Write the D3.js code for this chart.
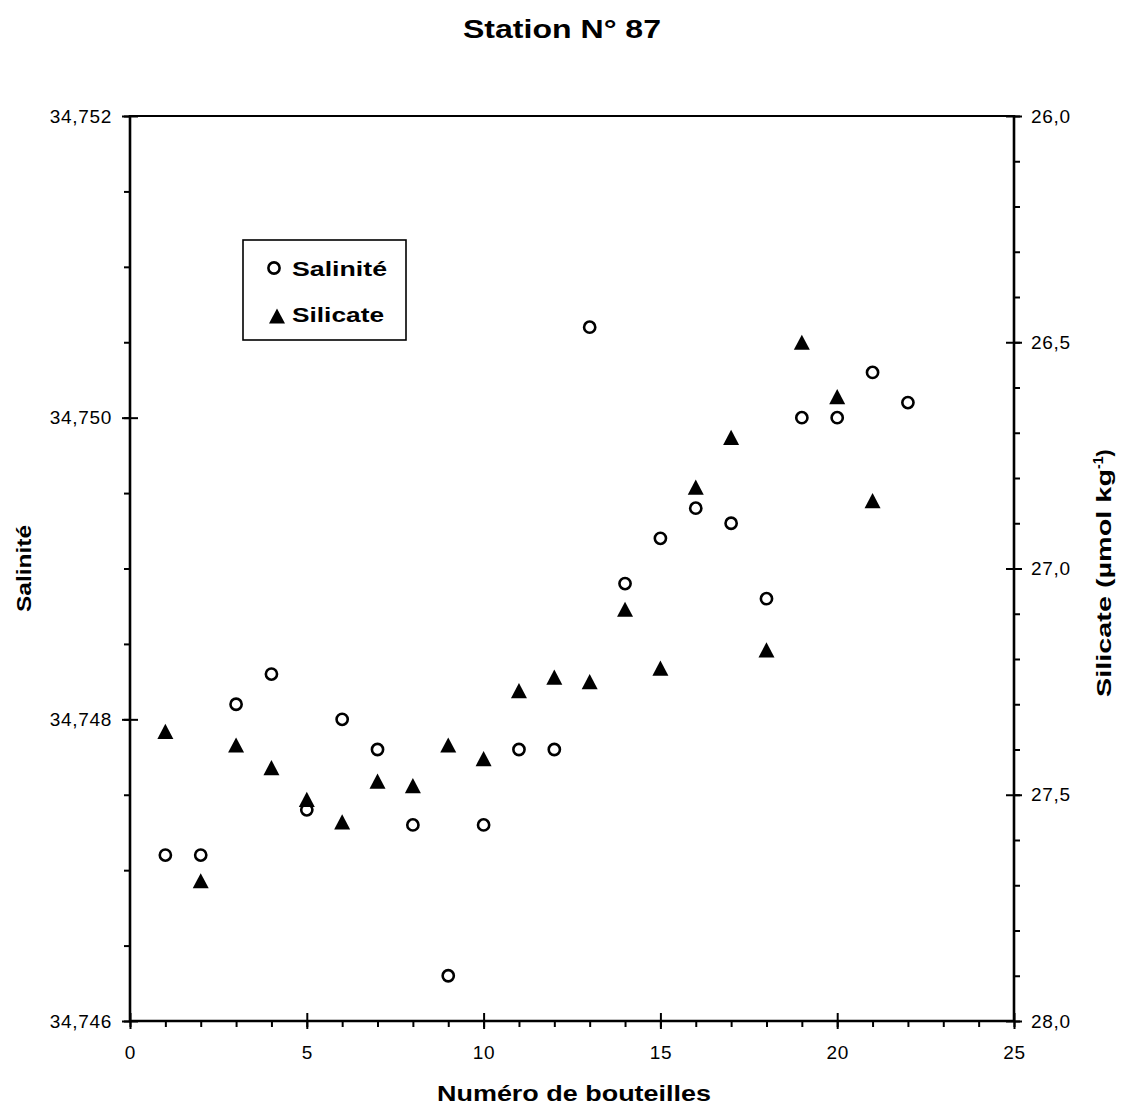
<!DOCTYPE html>
<html>
<head>
<meta charset="utf-8">
<script src="https://cdn.jsdelivr.net/npm/d3@7"></script>
<style>
  html, body { margin: 0; padding: 0; background: #fff; }
  svg { display: block; font-family: "Liberation Sans", Arial, Helvetica, sans-serif; }
</style>
</head>
<body>
<svg id="chart" width="1122" height="1109"></svg>
<script>
// Bottle numbers and measured values
const bottles = [1, 2, 3, 4, 5, 6, 7, 8, 9, 10, 11, 12, 13, 14, 15, 16, 17, 18, 19, 20, 21, 22];
const salinite = [34.7471, 34.7471, 34.7481, 34.7483, 34.7474, 34.7480, 34.7478, 34.7473, 34.7463, 34.7473,
                  34.7478, 34.7478, 34.7506, 34.7489, 34.7492, 34.7494, 34.7493, 34.7488, 34.7500, 34.7500,
                  34.7503, 34.7501];
const silicateBottles = [1, 2, 3, 4, 5, 6, 7, 8, 9, 10, 11, 12, 13, 14, 15, 16, 17, 18, 19, 20, 21];
const silicate = [27.36, 27.69, 27.39, 27.44, 27.51, 27.56, 27.47, 27.48, 27.39, 27.42,
                  27.27, 27.24, 27.25, 27.09, 27.22, 26.82, 26.71, 27.18, 26.50, 26.62, 26.85];

const xTicks = [0, 5, 10, 15, 20, 25];
const salTicks = [34.746, 34.748, 34.750, 34.752];
const silTicks = [26.0, 26.5, 27.0, 27.5, 28.0];

const svg = d3.select("#chart");
const L = 130, R = 1014, T = 116, B = 1021;

const x = d3.scaleLinear().domain([0, 25]).range([L, R]);
const ySal = d3.scaleLinear().domain([34.746, 34.752]).range([B, T]);
const ySil = d3.scaleLinear().domain([26.0, 28.0]).range([T, B]);

const fmtSal = v => d3.format(".3f")(v).replace(".", ",");
const fmtSil = v => d3.format(".1f")(v).replace(".", ",");

const axisW = 2.6;

// Frame: top line, axes
svg.append("line").attr("x1", L).attr("x2", R).attr("y1", T).attr("y2", T)
  .attr("stroke", "#000").attr("stroke-width", 2.2);

function styleAxis(g) {
  g.select(".domain").remove();
  g.selectAll("text").attr("fill", "#000").attr("font-size", 19).attr("letter-spacing", 0.7);
  g.selectAll("line").attr("stroke", "#000").attr("stroke-width", 2);
}

// X axis (bottom): minor ticks outward, major ticks crossing
const gx = svg.append("g").attr("transform", `translate(0,${B})`);
gx.call(d3.axisBottom(x).tickValues(d3.range(0, 26, 1)).tickSize(6).tickFormat(""));
gx.call(g => g.select(".domain").remove());
gx.selectAll("line").attr("stroke", "#000").attr("stroke-width", 2);
gx.append("g").call(d3.axisBottom(x).tickValues(xTicks).tickSize(8).tickPadding(17)
  .tickFormat(d3.format("d")))
  .call(styleAxis)
  .selectAll(".tick line").attr("y1", -8);
gx.append("line").attr("x1", L - 1).attr("x2", R + 1).attr("stroke", "#000").attr("stroke-width", axisW);

// Left salinity axis
const gl = svg.append("g").attr("transform", `translate(${L},0)`);
gl.call(d3.axisLeft(ySal).tickValues(d3.range(0, 13).map(i => 34.746 + i * 0.0005)).tickSize(6).tickFormat(""));
gl.call(g => g.select(".domain").remove());
gl.selectAll("line").attr("stroke", "#000").attr("stroke-width", 2);
gl.append("g").call(d3.axisLeft(ySal).tickValues(salTicks).tickSize(8).tickPadding(10).tickFormat(fmtSal))
  .call(styleAxis)
  .selectAll(".tick line").attr("x1", 8);
gl.append("line").attr("y1", T - 1).attr("y2", B + 1).attr("stroke", "#000").attr("stroke-width", axisW);

// Right silicate axis
const gr = svg.append("g").attr("transform", `translate(${R},0)`);
gr.call(d3.axisRight(ySil).tickValues(d3.range(0, 21).map(i => 26 + i * 0.1)).tickSize(6).tickFormat(""));
gr.call(g => g.select(".domain").remove());
gr.selectAll("line").attr("stroke", "#000").attr("stroke-width", 2);
gr.append("g").call(d3.axisRight(ySil).tickValues(silTicks).tickSize(8).tickPadding(9).tickFormat(fmtSil))
  .call(styleAxis)
  .selectAll(".tick line").attr("x1", -8);
gr.append("line").attr("y1", T - 1).attr("y2", B + 1).attr("stroke", "#000").attr("stroke-width", axisW);

// Salinity: open circles
svg.append("g").selectAll("circle")
  .data(bottles.map((b, i) => ({ b, v: salinite[i] })))
  .join("circle")
  .attr("cx", d => x(d.b))
  .attr("cy", d => ySal(d.v))
  .attr("r", 5.6)
  .attr("fill", "#fff")
  .attr("stroke", "#000")
  .attr("stroke-width", 2.6);

// Silicate: filled triangles, centred on their bounding box
const tri = (cx, cy, s) => {
  const h = s * 0.95, w = s;
  return `M${cx},${cy - h / 2}L${cx + w / 2},${cy + h / 2}L${cx - w / 2},${cy + h / 2}Z`;
};
svg.append("g").selectAll("path")
  .data(silicateBottles.map((b, i) => ({ b, v: silicate[i] })))
  .join("path")
  .attr("d", d => tri(x(d.b), ySil(d.v), 16))
  .attr("fill", "#000");

// Wide bold label helper
function boldText(sel, txt, size, len) {
  return sel.append("text").attr("font-size", size).attr("font-weight", "bold")
    .attr("textLength", len).attr("lengthAdjust", "spacingAndGlyphs").text(txt);
}

// Legend
const lg = svg.append("g");
lg.append("rect").attr("x", 243).attr("y", 240).attr("width", 163).attr("height", 100)
  .attr("fill", "#fff").attr("stroke", "#000").attr("stroke-width", 1.6);
lg.append("circle").attr("cx", 274).attr("cy", 268).attr("r", 5.6)
  .attr("fill", "#fff").attr("stroke", "#000").attr("stroke-width", 2.6);
boldText(lg, "Salinité", 21, 95).attr("x", 292).attr("y", 276);
lg.append("path").attr("d", tri(277, 316, 16)).attr("fill", "#000");
boldText(lg, "Silicate", 21, 92).attr("x", 292).attr("y", 322);

// Titles
boldText(svg, "Station N° 87", 26, 198).attr("x", 463).attr("y", 38);
boldText(svg, "Numéro de bouteilles", 22, 274).attr("x", 437).attr("y", 1101);
boldText(svg, "Salinité", 21, 87).attr("transform", "translate(31,612) rotate(-90)");

const yr = svg.append("text").attr("transform", "translate(1111,697) rotate(-90)")
  .attr("font-size", 21).attr("font-weight", "bold");
yr.append("tspan").attr("textLength", 228).attr("lengthAdjust", "spacingAndGlyphs").text("Silicate (µmol kg");
yr.append("tspan").attr("dy", -8).attr("font-size", 14).text("-1");
yr.append("tspan").attr("dy", 8).text(")");
</script>
</body>
</html>
